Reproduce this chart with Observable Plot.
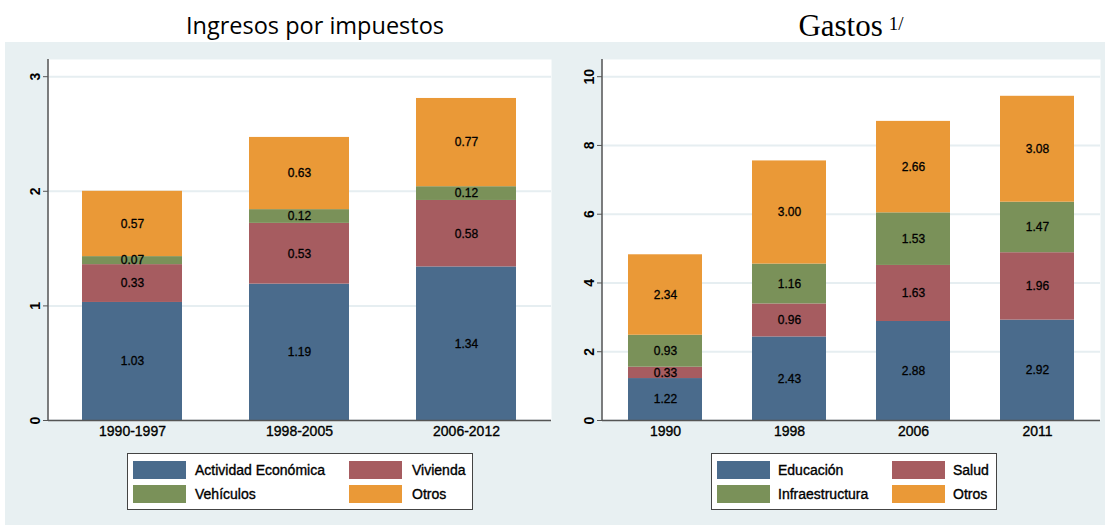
<!DOCTYPE html>
<html><head><meta charset="utf-8">
<script src="https://cdn.jsdelivr.net/npm/d3@7"></script>
<script src="https://cdn.jsdelivr.net/npm/@observablehq/plot@0.6"></script>
<style>
body{margin:0;background:#fff;}
#wrap{position:relative;width:1105px;height:525px;overflow:hidden;font-family:"Liberation Sans",Arial,sans-serif;}
#bg{position:absolute;left:5px;top:42px;width:1100px;height:483px;background:#e8f0f2;}
.title{position:absolute;top:0;text-align:center;color:#000;white-space:nowrap;}
#t1{left:0;width:630px;top:14px;font-family:"Open Sans",sans-serif;font-size:23.5px;line-height:1;}
#t2{left:596px;width:510px;top:10px;font-family:"Liberation Serif",serif;font-size:31px;line-height:1;}
#t2 sup{font-size:19px;vertical-align:6px;margin-left:6px;}
.panel{position:absolute;top:42px;}
.legend{position:absolute;background:#fff;border:1px solid #444;box-sizing:border-box;}
.sw{position:absolute;width:53px;height:18px;box-sizing:border-box;}
.lt{position:absolute;font-size:14px;line-height:18px;color:#000;white-space:nowrap;-webkit-text-stroke:0.35px #000;}
</style></head>
<body>
<div id="wrap">
  <div id="bg"></div>
  <div class="title" id="t1">Ingresos por impuestos</div>
  <div class="title" id="t2">Gastos<sup>1/</sup></div>
  <div class="panel" id="p1" style="left:0px"></div>
  <div class="panel" id="p2" style="left:552px"></div>
  <div class="legend" id="l1" style="left:127px;top:453px;width:346px;height:57px"></div>
  <div class="legend" id="l2" style="left:711px;top:453px;width:286px;height:57px"></div>
</div>
<script>
// ---- Data: Ingresos por impuestos ----
const periodsLeft = ["1990-1997", "1998-2005", "2006-2012"];
const seriesLeft = ["Actividad Económica", "Vivienda", "Vehículos", "Otros"];
const actividad = [1.03, 1.19, 1.34];
const vivienda  = [0.33, 0.53, 0.58];
const vehiculos = [0.07, 0.12, 0.12];
const otrosIng  = [0.57, 0.63, 0.77];
const ticksLeft = [0, 1, 2, 3];

// ---- Data: Gastos ----
const yearsRight = ["1990", "1998", "2006", "2011"];
const seriesRight = ["Educación", "Salud", "Infraestructura", "Otros"];
const educacion = [1.22, 2.43, 2.88, 2.92];
const salud     = [0.33, 0.96, 1.63, 1.96];
const infra     = [0.93, 1.16, 1.53, 1.47];
const otrosGas  = [2.34, 3.00, 2.66, 3.08];
const ticksRight = [0, 2, 4, 6, 8, 10];

const palette = ["#4a6b8c", "#a65c60", "#7a9159", "#ea9937"];
const gridColor = "#e6eef1";
const axisColor = "#555";

function toRows(cats, names, cols) {
  const rows = [];
  cats.forEach((c, i) => names.forEach((n, j) => rows.push({cat: c, series: n, value: cols[j][i]})));
  return rows;
}
const dataLeft = toRows(periodsLeft, seriesLeft, [actividad, vivienda, vehiculos, otrosIng]);
const dataRight = toRows(yearsRight, seriesRight, [educacion, salud, infra, otrosGas]);

function leftLine(index, scales, values, dims) {
  const l = document.createElementNS("http://www.w3.org/2000/svg", "line");
  l.setAttribute("x1", dims.marginLeft); l.setAttribute("x2", dims.marginLeft);
  l.setAttribute("y1", dims.marginTop); l.setAttribute("y2", dims.height - dims.marginBottom);
  l.setAttribute("stroke", axisColor); l.setAttribute("stroke-width", 1.5);
  return l;
}

function makePanel(cats, series, data, ticks, ymax, opts) {
  return Plot.plot({
    width: opts.width, height: 440,
    marginLeft: opts.ml, marginRight: opts.mr, marginTop: 17, marginBottom: 62,
    style: {background: "transparent", fontFamily: "Liberation Sans, Arial, sans-serif", color: "#000", overflow: "visible"},
    x: {domain: cats, paddingInner: 0.4, paddingOuter: 0.2, label: null},
    y: {domain: [0, ymax], label: null},
    color: {domain: series, range: palette},
    marks: [
      Plot.frame({fill: "white", stroke: null}),
      Plot.gridY(ticks, {stroke: gridColor, strokeOpacity: 1, strokeWidth: 2}),
      Plot.barY(data, {x: "cat", y: "value", fill: "series", inset: 0}),
      Plot.text(data, Plot.stackY({x: "cat", y: "value", text: d => d.value.toFixed(2), fontSize: 12, fill: "#000", stroke: "#000", strokeWidth: 0.3})),
      Plot.ruleY([0], {stroke: axisColor, strokeWidth: 1.5}),
      leftLine,
      Plot.axisY(ticks, {tickSize: 5, tickPadding: 4, tickRotate: -90, textAnchor: "middle", lineAnchor: "bottom", fontSize: 14, fontWeight: "bold", stroke: axisColor, tickFormat: d => String(d), label: null}),
      Plot.axisX({tickSize: 0, tickPadding: 6, fontSize: 14, label: null, textStroke: "#000", textStrokeWidth: 0.35})
    ]
  });
}

document.getElementById("p1").appendChild(makePanel(periodsLeft, seriesLeft, dataLeft, ticksLeft, 3.15, {width: 555, ml: 48, mr: 4}));
document.getElementById("p2").appendChild(makePanel(yearsRight, seriesRight, dataRight, ticksRight, 10.5, {width: 553, ml: 50, mr: 5}));

function legend(id, names, pos) {
  const el = document.getElementById(id);
  names.forEach((n, i) => {
    const col = i % 2, row = Math.floor(i / 2);
    const top = 7 + row * 24;
    const sw = document.createElement("div");
    sw.className = "sw";
    sw.style.left = pos.sw[col] + "px"; sw.style.top = top + "px";
    sw.style.background = palette[i];
    el.appendChild(sw);
    const t = document.createElement("div");
    t.className = "lt";
    t.style.left = pos.tx[col] + "px"; t.style.top = top + "px";
    t.textContent = n;
    el.appendChild(t);
  });
}
legend("l1", seriesLeft, {sw: [5, 221], tx: [67, 284]});
legend("l2", seriesRight, {sw: [5, 180], tx: [66, 241]});
</script>
</body></html>
